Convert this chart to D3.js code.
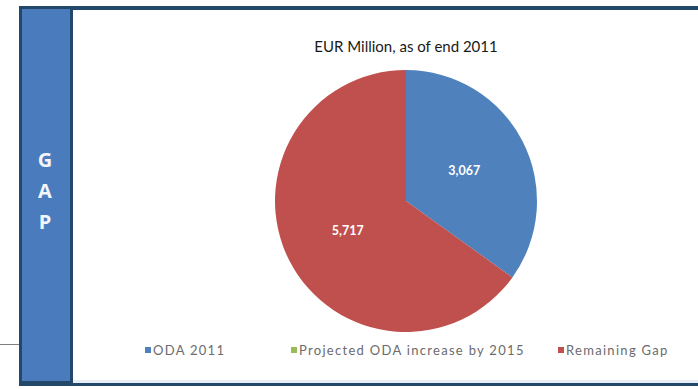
<!DOCTYPE html>
<html>
<head>
<meta charset="utf-8">
<script src="https://cdn.jsdelivr.net/npm/d3@7"></script>
<style>
  body { margin: 0; background: #ffffff; }
  svg { display: block; }
</style>
</head>
<body>
<svg id="chart" width="698" height="389"></svg>
<script>
// chart data
const categories = ["ODA 2011", "Projected ODA increase by 2015", "Remaining Gap"];
const values = [3067, 0, 5717];
const colors = ["#4f81bd", "#9bbb59", "#c0504d"];
const sideLetters = ["G", "A", "P"];
const title = "EUR Million, as of end 2011";

const svg = d3.select("#chart");

// frame: dark top rule, side bar, white panel
svg.append("line")
    .attr("x1", 0).attr("x2", 20)
    .attr("y1", 344.5).attr("y2", 344.5)
    .attr("stroke", "#7f7f7f")
    .attr("stroke-width", 1);

svg.append("rect")
    .attr("x", 19).attr("y", 6)
    .attr("width", 679).attr("height", 380)
    .attr("fill", "#24486a");

svg.append("rect")
    .attr("x", 22).attr("y", 9)
    .attr("width", 48).attr("height", 372)
    .attr("fill", "#4a7cbd");

svg.append("rect")
    .attr("x", 73).attr("y", 10)
    .attr("width", 625).attr("height", 373)
    .attr("fill", "#ffffff");

svg.append("rect")
    .attr("x", 73).attr("y", 380)
    .attr("width", 625).attr("height", 3)
    .attr("fill", "#e6eef7");

svg.selectAll("text.side")
    .data(sideLetters)
    .enter()
    .append("text")
    .attr("class", "side")
    .attr("x", 45)
    .attr("y", (d, i) => 167 + i * 31)
    .attr("text-anchor", "middle")
    .attr("font-family", "'Open Sans', sans-serif")
    .attr("font-weight", "bold")
    .attr("font-size", 20)
    .attr("fill", "#f2f5fa")
    .text(d => d);

// title
svg.append("text")
    .attr("x", 406)
    .attr("y", 52)
    .attr("text-anchor", "middle")
    .attr("font-family", "Lato, sans-serif")
    .attr("font-size", 15)
    .attr("fill", "#1a1a1a")
    .text(title);

// pie
const cx = 406, cy = 201, radius = 131;

const pie = d3.pie().sort(null).value(d => d)(values);
const arc = d3.arc().innerRadius(0).outerRadius(radius);

const g = svg.append("g").attr("transform", `translate(${cx},${cy})`);

g.selectAll("path")
    .data(pie)
    .enter()
    .append("path")
    .attr("d", arc)
    .attr("fill", (d, i) => colors[i]);

g.selectAll("text")
    .data(pie.filter(d => d.value > 0))
    .enter()
    .append("text")
    .attr("transform", d => `translate(${arc.centroid(d)})`)
    .attr("dy", "0.35em")
    .attr("text-anchor", "middle")
    .attr("font-family", "Lato, sans-serif")
    .attr("font-weight", "bold")
    .attr("font-size", 12.5)
    .attr("fill", "#ffffff")
    .text(d => d3.format(",")(d.value));

// legend
const legendX = [145, 291, 558];

const legend = svg.selectAll("g.legend")
    .data(categories)
    .enter()
    .append("g")
    .attr("class", "legend")
    .attr("transform", (d, i) => `translate(${legendX[i]},350)`);

legend.append("rect")
    .attr("x", 0).attr("y", -3)
    .attr("width", 6).attr("height", 6)
    .attr("fill", (d, i) => colors[i]);

legend.append("text")
    .attr("x", 8)
    .attr("dy", "0.35em")
    .attr("font-family", "Lato, sans-serif")
    .attr("font-size", 13)
    .attr("letter-spacing", 1.3)
    .attr("fill", "#6b6b6b")
    .text(d => d);
</script>
</body>
</html>
